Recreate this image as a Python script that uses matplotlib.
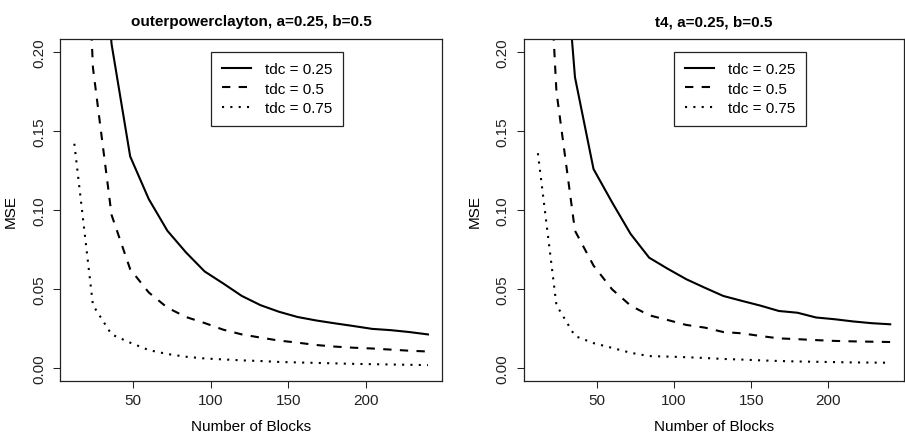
import matplotlib
matplotlib.use("Agg")
import matplotlib.pyplot as plt

plt.rcParams['font.family'] = ['Liberation Sans', 'DejaVu Sans']
plt.rcParams['font.size'] = 11

blocks = [12, 24, 36, 48, 60, 72, 84, 96, 108, 120,
          132, 144, 156, 168, 180, 192, 204, 216, 228, 240]

titles = ["outerpowerclayton, a=0.25, b=0.5", "t4, a=0.25, b=0.5"]
legend_labels = ["tdc = 0.25", "tdc = 0.5", "tdc = 0.75"]

# left panel: outerpowerclayton
opc_tdc025 = [0.70, 0.35, 0.205, 0.134, 0.107, 0.087, 0.0733, 0.0613, 0.0537, 0.0458,
              0.0400, 0.0358, 0.0325, 0.0303, 0.0285, 0.0268, 0.0250, 0.0242, 0.0230, 0.0215]
opc_tdc050 = [0.46, 0.190, 0.097, 0.0627, 0.0480, 0.0384, 0.0325, 0.0287, 0.0245, 0.0215,
              0.0195, 0.0176, 0.0163, 0.0148, 0.0138, 0.0131, 0.0126, 0.0119, 0.0112, 0.0107]
opc_tdc075 = [0.142, 0.040, 0.0215, 0.0163, 0.0116, 0.0091, 0.0074, 0.0063, 0.0057, 0.0051,
              0.0047, 0.0041, 0.0038, 0.0035, 0.0032, 0.0029, 0.0027, 0.0025, 0.0023, 0.0021]

# right panel: t4
t4_tdc025 = [0.70, 0.33, 0.184, 0.126, 0.105, 0.085, 0.070, 0.0630, 0.0564, 0.0510,
             0.0458, 0.0427, 0.0397, 0.0363, 0.0352, 0.0322, 0.0311, 0.0297, 0.0286, 0.0279]
t4_tdc050 = [0.40, 0.175, 0.087, 0.0650, 0.0500, 0.0397, 0.0336, 0.0306, 0.0275, 0.0258,
             0.0230, 0.0222, 0.0205, 0.0190, 0.0185, 0.0179, 0.0174, 0.0171, 0.0169, 0.0167]
t4_tdc075 = [0.136, 0.040, 0.0205, 0.0160, 0.0130, 0.0099, 0.0078, 0.0075, 0.0071, 0.0066,
             0.0060, 0.0056, 0.0051, 0.0047, 0.0044, 0.0042, 0.0040, 0.0038, 0.0037, 0.0036]

panels = [(opc_tdc025, opc_tdc050, opc_tdc075), (t4_tdc025, t4_tdc050, t4_tdc075)]

xticks = [50, 100, 150, 200]
yticks = [0.00, 0.05, 0.10, 0.15, 0.20]
ytick_labels = ["0.00", "0.05", "0.10", "0.15", "0.20"]

W, H = 905, 439
fig = plt.figure(figsize=(W / 100, H / 100), dpi=100)

axes_px = [(60.2, 442.1), (523.8, 904.3)]
top_px, bot_px = 40.3, 382.1
styles = ['-', (0, (4, 4)), (0, (1, 3))]

for (l, r), series, title in zip(axes_px, panels, titles):
    ax = fig.add_axes([l / W, 1 - bot_px / H, (r - l) / W, (bot_px - top_px) / H])
    for ys, ls, lab in zip(series, styles, legend_labels):
        ax.plot(blocks, ys, color='black', linestyle=ls, linewidth=1.5, label=lab)
    xr = blocks[-1] - blocks[0]
    ax.set_xlim(blocks[0] - 0.04 * xr, blocks[-1] + 0.04 * xr)
    ax.set_ylim(0 - 0.04 * 0.2, 0.2 + 0.04 * 0.2)
    ax.set_xticks(xticks)
    ax.set_xticklabels([str(t) for t in xticks])
    ax.set_yticks(yticks)
    ax.set_yticklabels(ytick_labels, rotation=90, va='center')
    ax.tick_params(axis='both', direction='out', length=5.3, width=0.75, colors='#222222')
    ax.tick_params(axis='x', pad=3)
    ax.tick_params(axis='y', pad=5)
    for sp in ax.spines.values():
        sp.set_linewidth(0.9)
        sp.set_color('#222222')
    ax.set_title(title, fontweight='bold', fontsize=11, pad=10)
    ax.set_xlabel("Number of Blocks", labelpad=9)
    ax.set_ylabel("MSE", labelpad=10)
    leg = ax.legend(loc='upper left', bbox_to_anchor=(0.395, 0.964), borderaxespad=0,
                    fancybox=False, edgecolor='#222222', framealpha=1,
                    handlelength=1.9, handletextpad=0.9, labelspacing=0.35,
                    borderpad=0.7, fontsize=11)
    leg.get_frame().set_linewidth(0.9)

fig.savefig("out.png", dpi=100)
